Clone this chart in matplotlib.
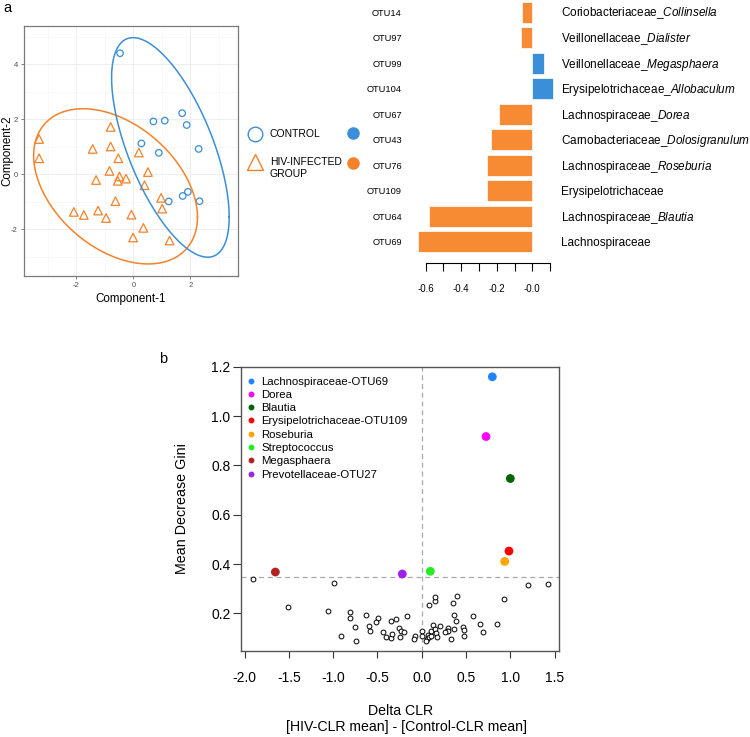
import numpy as np
import matplotlib
matplotlib.use('Agg')
import matplotlib.pyplot as plt
from matplotlib import transforms
from matplotlib.lines import Line2D

plt.rcParams['font.family'] = 'Liberation Sans'
plt.rcParams['mathtext.fontset'] = 'custom'
plt.rcParams['mathtext.rm'] = 'Liberation Sans'
plt.rcParams['mathtext.it'] = 'Liberation Sans:italic'
plt.rcParams['axes.unicode_minus'] = False

# ---- panel a: PLS-DA scores ----
ctrl_x = [-0.47, 0.70, 1.10, 1.71, 1.87, 0.28, 0.89, 2.29, 1.24, 1.73, 1.91, 2.32]
ctrl_y = [4.40, 1.92, 1.95, 2.22, 1.79, 1.12, 0.78, 0.92, -0.99, -0.79, -0.64, -0.98]
hiv_x = [-3.31, -3.31, -0.80, -1.43, -0.80, -0.53, 0.19, -0.84, -1.31, -0.49, -0.55,
         -0.26, 0.51, 0.39, -0.63, 0.97, 1.01, -2.09, -1.74, -1.24, -0.96, -0.07,
         0.35, -0.01, 1.27]
hiv_y = [1.28, 0.58, 1.72, 0.92, 1.01, 0.58, 0.79, 0.12, -0.21, -0.08, -0.24,
         -0.16, 0.08, -0.40, -0.98, -0.86, -1.25, -1.37, -1.48, -1.32, -1.59, -1.47,
         -1.95, -2.30, -2.41]

# ---- panel a: loadings bars ----
otu_ids = ['OTU14', 'OTU97', 'OTU99', 'OTU104', 'OTU67', 'OTU43', 'OTU76',
           'OTU109', 'OTU64', 'OTU69']
otu_family = ['Coriobacteriaceae', 'Veillonellaceae', 'Veillonellaceae',
              'Erysipelotrichaceae', 'Lachnospiraceae', 'Carnobacteriaceae',
              'Lachnospiraceae', 'Erysipelotrichaceae', 'Lachnospiraceae',
              'Lachnospiraceae']
otu_genus = ['Collinsella', 'Dialister', 'Megasphaera', 'Allobaculum', 'Dorea',
             'Dolosigranulum', 'Roseburia', '', 'Blautia', '']
otu_loading = [-0.058, -0.062, 0.066, 0.118, -0.189, -0.231, -0.255, -0.257,
               -0.581, -0.643]

# ---- panel b: random forest importance ----
hl_names = ['Lachnospiraceae-OTU69', 'Dorea', 'Blautia', 'Erysipelotrichaceae-OTU109',
            'Roseburia', 'Streptococcus', 'Megasphaera', 'Prevotellaceae-OTU27']
hl_colors = ['#1E84FF', '#FF00FF', '#006400', '#FF0000', '#FFA500', '#22EE22',
             '#B22222', '#A020F0']
hl_dclr = [0.797, 0.726, 1.00, 0.985, 0.937, 0.097, -1.652, -0.219]
hl_gini = [1.159, 0.917, 0.747, 0.453, 0.411, 0.371, 0.368, 0.360]

other_dclr = [-1.907, -0.993, -1.512, -1.058, -0.813, -0.809, -0.625, -0.497, -0.519,
              -0.749, -0.595, -0.584, -0.907, -0.738, -0.350, -0.290, -0.433, -0.406,
              -0.350, -0.332, -0.253, -0.234, -0.248, -0.200, -0.166, -0.072, -0.087,
              0.003, 0.000, 0.056, 0.049, 0.071, 0.086, 0.101, 0.105, 0.124, 0.147,
              0.161, 0.169, 0.207, 0.086, 0.147, 0.150, 0.402, 0.350, 0.361, 0.384,
              0.293, 0.282, 0.300, 0.268, 0.368, 0.331, 0.463, 0.474, 0.474, 0.583,
              0.655, 0.688, 0.846, 0.933, 1.200, 1.426]
other_gini = [0.340, 0.322, 0.226, 0.209, 0.205, 0.182, 0.194, 0.183, 0.167,
              0.144, 0.151, 0.129, 0.109, 0.089, 0.168, 0.179, 0.125, 0.105,
              0.100, 0.118, 0.143, 0.129, 0.106, 0.125, 0.189, 0.109, 0.096,
              0.130, 0.110, 0.098, 0.090, 0.112, 0.106, 0.109, 0.130, 0.152, 0.136,
              0.122, 0.104, 0.151, 0.234, 0.249, 0.266, 0.272, 0.241, 0.195, 0.168,
              0.143, 0.130, 0.130, 0.127, 0.136, 0.096, 0.147, 0.132, 0.110, 0.190,
              0.157, 0.126, 0.156, 0.260, 0.315, 0.321]
gini_cutoff = 0.347

BLUE = '#3B8ED8'
ORANGE = '#F5822A'
W, H = 750, 737


def px_axes(fig, left, top, right, bottom):
    return fig.add_axes([left / W, 1 - bottom / H, (right - left) / W, (bottom - top) / H])


def conf_ellipse(x, y, level=0.95, segments=200):
    # covariance ellipse, chi-square radius (as in mixOmics plotIndiv)
    X = np.column_stack([x, y])
    centre = X.mean(axis=0)
    shape = np.cov(X.T)
    radius = np.sqrt(-2 * np.log(1 - level))
    t = np.linspace(0, 2 * np.pi, segments + 1)
    chol = np.linalg.cholesky(shape).T
    pts = centre + radius * np.column_stack([np.cos(t), np.sin(t)]) @ chol
    return pts[:, 0], pts[:, 1]


fig = plt.figure(figsize=(7.5, 7.37), dpi=100)

# ---------------- scores plot ----------------
ax1 = px_axes(fig, 24, 26, 238, 276)
ax1.set_xlim(-3.84, 3.67)
ax1.set_ylim(-3.70, 5.39)
ax1.set_xticks([-2, 0, 2])
ax1.set_yticks([-2, 0, 2, 4])
ax1.set_xticks([-3, -1, 1, 3], minor=True)
ax1.set_yticks([-3, -1, 1, 3, 5], minor=True)
ax1.grid(which='major', color='#EBEBEB', lw=0.6)
ax1.grid(which='minor', color='#F4F4F4', lw=0.4)
ax1.set_axisbelow(True)
ax1.tick_params(which='major', labelsize=5.5, labelcolor='#4D4D4D', color='#4D4D4D',
                length=2.5, width=0.5, pad=2)
ax1.tick_params(which='minor', length=0)
for s in ax1.spines.values():
    s.set_color('#7A7A7A')
    s.set_linewidth(0.9)

ex, ey = conf_ellipse(hiv_x, hiv_y)
ax1.plot(ex, ey, color=ORANGE, lw=1.1)
ex, ey = conf_ellipse(ctrl_x, ctrl_y)
ax1.plot(ex, ey, color=BLUE, lw=1.1)
ax1.scatter(ctrl_x, ctrl_y, marker='o', s=22, facecolors='none', edgecolors=BLUE, lw=0.9)
ax1.scatter(hiv_x, hiv_y, marker='^', s=38, facecolors='none', edgecolors=ORANGE, lw=0.9)
ax1.set_xlabel('Component-1', fontsize=8.4, labelpad=3)
fig.text(7 / W, 1 - 151 / H, 'Component-2', rotation=90, fontsize=8.4,
         ha='center', va='center')

fig.text(3 / W, 1 - 8 / H, 'a', fontsize=10.5, va='center', ha='left')

# legend of the scores plot
leg = fig.add_axes([0, 0, 1, 1], facecolor='none')
leg.set_xlim(0, W)
leg.set_ylim(H, 0)
leg.axis('off')
leg.plot([255], [134], marker='o', ms=10.5, mfc='none', mec=BLUE, mew=1.0)
leg.plot([255], [162], marker='^', ms=11, mfc='none', mec=ORANGE, mew=1.0)
leg.plot([353], [133], marker='o', ms=8, mfc=BLUE, mec=BLUE)
leg.plot([353], [163], marker='o', ms=8, mfc=ORANGE, mec=ORANGE)
leg.text(270, 134, 'CONTROL', fontsize=7.5, va='center', ha='left')
leg.text(270, 162, 'HIV-INFECTED', fontsize=7.5, va='center', ha='left')
leg.text(270, 174, 'GROUP', fontsize=7.5, va='center', ha='left')

# ---------------- loadings bars ----------------
ax2 = px_axes(fig, 415, 0.06, 555.4, 263)
ypos = np.arange(len(otu_ids))
bar_colors = [BLUE if v > 0 else '#F68B33' for v in otu_loading]
ax2.barh(ypos, otu_loading, height=0.82, color=bar_colors, edgecolor='white', lw=0.5)
ax2.set_xlim(-0.66, 0.13)
ax2.set_ylim(9.83, -0.48)
for k in ['top', 'right', 'left']:
    ax2.spines[k].set_visible(False)
ax2.spines['bottom'].set_bounds(-0.6, 0.1)
ax2.spines['bottom'].set_linewidth(0.8)
xt = np.round(np.arange(-0.6, 0.11, 0.1), 1)
ax2.set_xticks(xt)
ax2.set_xticklabels(['%.1f' % v if i % 2 == 0 else '' for i, v in enumerate(xt)])
ax2.tick_params(axis='x', length=6, width=0.8, labelsize=7, pad=9)
ax2.set_yticks(ypos)
ax2.set_yticklabels(otu_ids)
ax2.tick_params(axis='y', length=0, labelsize=6.7, pad=9.5)
trans = transforms.blended_transform_factory(ax2.transAxes, ax2.transData)
for i, (fam, gen) in enumerate(zip(otu_family, otu_genus)):
    lab = fam + '_' + r'$\it{' + gen + '}$' if gen else fam
    ax2.text(1.04, i + 0.05, lab, transform=trans, fontsize=8.5, va='center', ha='left')

# ---------------- importance vs delta CLR ----------------
ax3 = px_axes(fig, 241, 366.7, 559.3, 651)
ax3.set_xlim(-2.04, 1.553)
ax3.set_ylim(0.048, 1.2)
ax3.axhline(gini_cutoff, color='#A8A8A8', ls=(0, (4, 3)), lw=0.9, zorder=1)
ax3.axvline(0, color='#A8A8A8', ls=(0, (4, 3)), lw=0.9, zorder=1)
ax3.scatter(other_dclr, other_gini, s=12, facecolors='white', edgecolors='black',
            lw=0.7, zorder=2)
ax3.scatter(hl_dclr, hl_gini, s=40, c=hl_colors, edgecolors='none', zorder=3)
ax3.set_xticks(np.arange(-2.0, 1.51, 0.5))
ax3.set_xticklabels(['%.1f' % v for v in np.arange(-2.0, 1.51, 0.5)])
ax3.set_yticks(np.arange(0.2, 1.21, 0.2))
ax3.set_yticklabels(['%.1f' % v for v in np.arange(0.2, 1.21, 0.2)])
ax3.tick_params(axis='x', length=5, width=0.8, labelsize=10, pad=9.5, color='#333333')
ax3.tick_params(axis='y', length=5.5, width=0.8, labelsize=10, pad=2, color='#333333')
for s in ax3.spines.values():
    s.set_color('#555555')
    s.set_linewidth(1.0)

handles = [Line2D([], [], ls='none', marker='o', ms=3.2, mfc=c, mec=c) for c in hl_colors]
ax3.legend(handles, hl_names, loc='upper left', bbox_to_anchor=(0.0135, 0.9655),
           frameon=False, fontsize=8.2, handlelength=1.0, handletextpad=0.4,
           labelspacing=0.29, borderpad=0, borderaxespad=0)

fig.text(181.7 / W, 1 - 508.9 / H, 'Mean Decrease Gini', rotation=90, fontsize=10.3,
         ha='center', va='center')
fig.text(401 / W, 1 - 710.7 / H, 'Delta CLR', fontsize=10.2, ha='center', va='center')
fig.text(407 / W, 1 - 727.3 / H, '[HIV-CLR mean] - [Control-CLR mean]', fontsize=10.2,
         ha='center', va='center')
fig.text(163 / W, 1 - 359 / H, 'b', fontsize=10.5, ha='center', va='center')

fig.savefig('out.png', dpi=100)
